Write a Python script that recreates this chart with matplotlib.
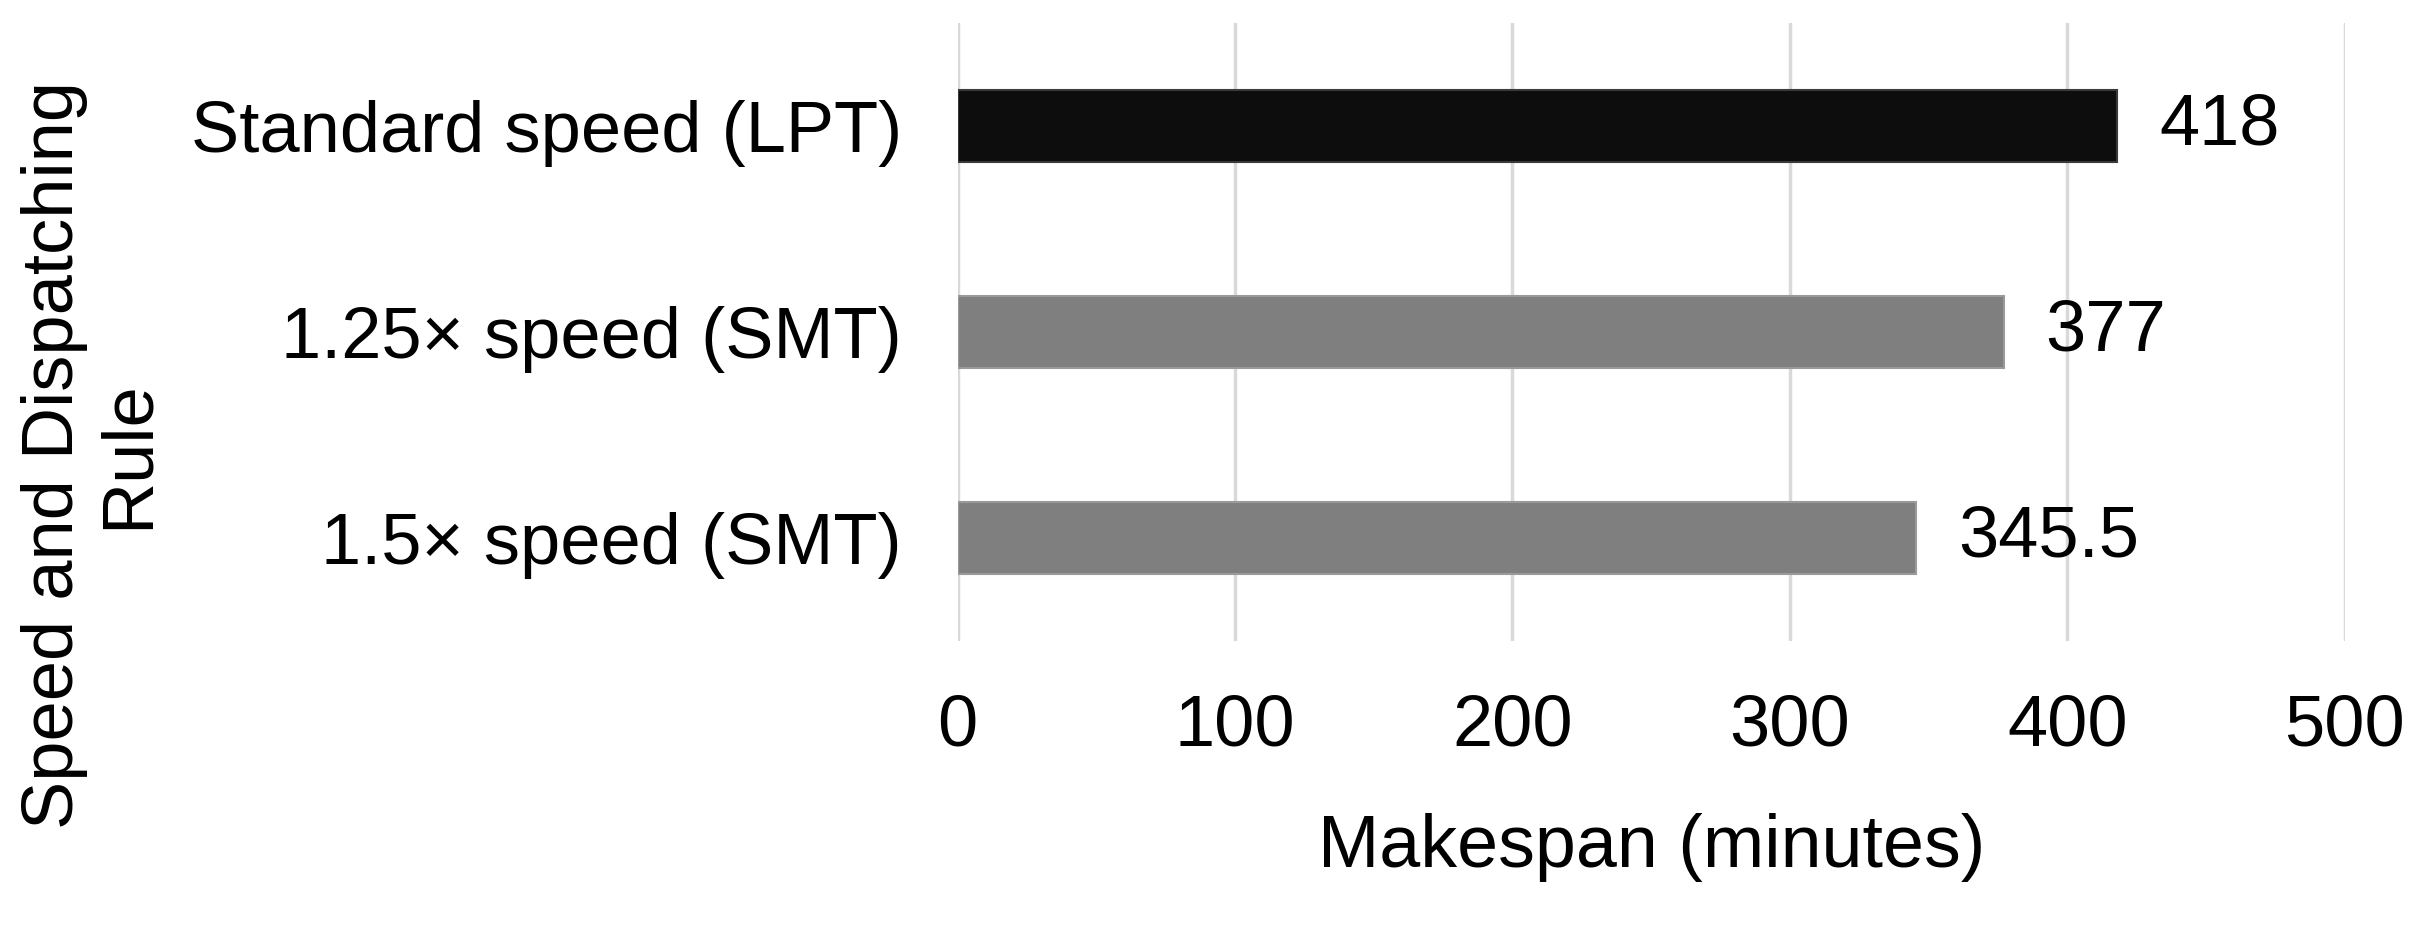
import matplotlib
matplotlib.use("Agg")
import matplotlib.pyplot as plt

categories = ["Standard speed (LPT)", "1.25\u00d7 speed (SMT)", "1.5\u00d7 speed (SMT)"]
makespan = [418, 377, 345.5]
value_labels = ["418", "377", "345.5"]
bar_colors = ["#0d0d0d", "#7f7f7f", "#7f7f7f"]
edge_colors = ["#3a3a3a", "#9a9a9a", "#9a9a9a"]
xticks = [0, 100, 200, 300, 400, 500]

plt.rcParams['font.family'] = ['Liberation Sans', 'DejaVu Sans']

fig = plt.figure(figsize=(24.22, 9.44), dpi=100)
ax = fig.add_axes([0.3954, 0.321, 0.5727, 0.6546])

ypos = list(range(len(categories)))
ax.barh(ypos, makespan, height=0.35, color=bar_colors, edgecolor=edge_colors, linewidth=1.5, zorder=3)
ax.set_ylim(len(categories) - 0.5, -0.5)
ax.set_xlim(0, 500)
ax.set_xticks(xticks)
ax.set_xticklabels([str(t) for t in xticks], fontsize=52)
ax.set_yticks(ypos)
ax.set_yticklabels(categories, fontsize=52)
ax.tick_params(axis='both', length=0)
ax.tick_params(axis='x', pad=38)
ax.tick_params(axis='y', pad=40)
ax.grid(axis='x', color='#d9d9d9', linewidth=2.5, zorder=0)
ax.grid(axis='y', visible=False)
for s in ax.spines.values():
    s.set_visible(False)

for y, v, lab in zip(ypos, makespan, value_labels):
    ax.annotate(lab, (v, y), xytext=(30, 0), textcoords='offset points',
                ha='left', va='center', fontsize=52)

fig.text(0.6821, 1 - 848 / 944, "Makespan (minutes)", ha='center', va='center', fontsize=53)
fig.text(0.038, 1 - 455 / 944, "Speed and Dispatching\nRule", ha='center', va='center',
         rotation=90, fontsize=52, linespacing=1.15)

fig.savefig("out.png", dpi=100)
